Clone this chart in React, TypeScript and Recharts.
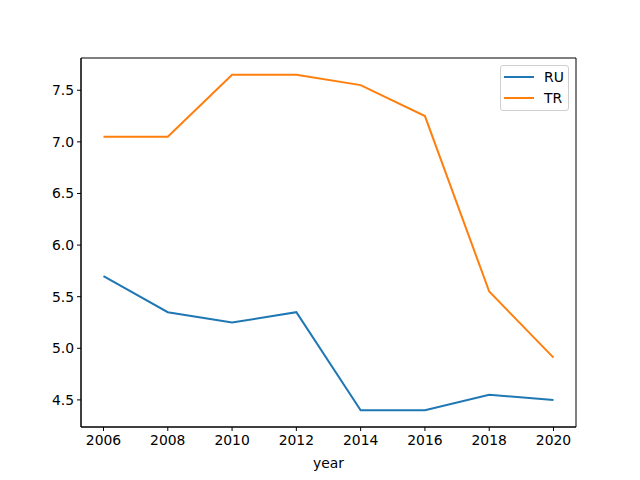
import React from "react";
import { LineChart, Line, XAxis, YAxis, ReferenceArea } from "recharts";

const years = [2006, 2008, 2010, 2012, 2014, 2016, 2018, 2020];
const ru = [5.7, 5.35, 5.25, 5.35, 4.4, 4.4, 4.55, 4.5];
const tr = [7.05, 7.05, 7.65, 7.65, 7.55, 7.25, 5.55, 4.91];
const yTicks = [4.5, 5.0, 5.5, 6.0, 6.5, 7.0, 7.5];

const data = years.map((year, i) => ({ year, RU: ru[i], TR: tr[i] }));

const X_DOMAIN: [number, number] = [2005.3, 2020.7];
const Y_DOMAIN: [number, number] = [4.2375, 7.8125];

const font = "'DejaVu Sans', sans-serif";

const series = [
  { name: "RU", color: "#1f77b4" },
  { name: "TR", color: "#ff7f0e" },
];

const LegendBox = () => (
  <div
    style={{
      position: "absolute",
      left: 500,
      top: 65,
      width: 69,
      height: 46,
      boxSizing: "border-box",
      border: "1px solid #d0d0d0",
      borderRadius: 3,
      background: "rgba(255,255,255,0.8)",
      paddingLeft: 3,
      paddingTop: 0,
      fontFamily: font,
      fontSize: 13.9,
      color: "#000",
    }}
  >
    {series.map((s) => (
      <div
        key={s.name}
        style={{ display: "flex", alignItems: "center", height: 21 }}
      >
        <span
          style={{
            display: "inline-block",
            width: 30,
            height: 2,
            background: s.color,
            marginRight: 10,
          }}
        />
        <span>{s.name}</span>
      </div>
    ))}
  </div>
);

export default function App() {
  return (
    <div
      style={{
        position: "absolute",
        left: 0,
        top: 0,
        width: 640,
        height: 480,
        background: "#fff",
      }}
    >
      <LineChart
        width={640}
        height={480}
        data={data}
        margin={{ top: 58, right: 64, bottom: 0, left: 31 }}
      >
        <XAxis
          dataKey="year"
          type="number"
          domain={X_DOMAIN}
          ticks={years}
          height={53}
          stroke="#000"
          tickLine={{ stroke: "#000" }}
          tickSize={4}
          tickMargin={4}
          tick={{ fill: "#000", fontSize: 13.9, fontFamily: font }}
          label={{
            value: "year",
            position: "insideBottom",
            offset: 12,
            fill: "#000",
            fontSize: 13.9,
            fontFamily: font,
          }}
        />
        <YAxis
          type="number"
          domain={Y_DOMAIN}
          ticks={yTicks}
          width={50}
          stroke="#000"
          tickLine={{ stroke: "#000" }}
          tickSize={4}
          tickMargin={3}
          tickFormatter={(v: number) => v.toFixed(1)}
          tick={{ fill: "#000", fontSize: 13.9, fontFamily: font }}
        />
        <ReferenceArea
          x1={X_DOMAIN[0]}
          x2={X_DOMAIN[1]}
          y1={Y_DOMAIN[0]}
          y2={Y_DOMAIN[1]}
          fill="none"
          stroke="#000"
          strokeWidth={1}
        />
        <Line
          type="linear"
          dataKey="RU"
          stroke="#1f77b4"
          strokeWidth={2}
          dot={false}
          isAnimationActive={false}
        />
        <Line
          type="linear"
          dataKey="TR"
          stroke="#ff7f0e"
          strokeWidth={2}
          dot={false}
          isAnimationActive={false}
        />
      </LineChart>
      <LegendBox />
    </div>
  );
}
